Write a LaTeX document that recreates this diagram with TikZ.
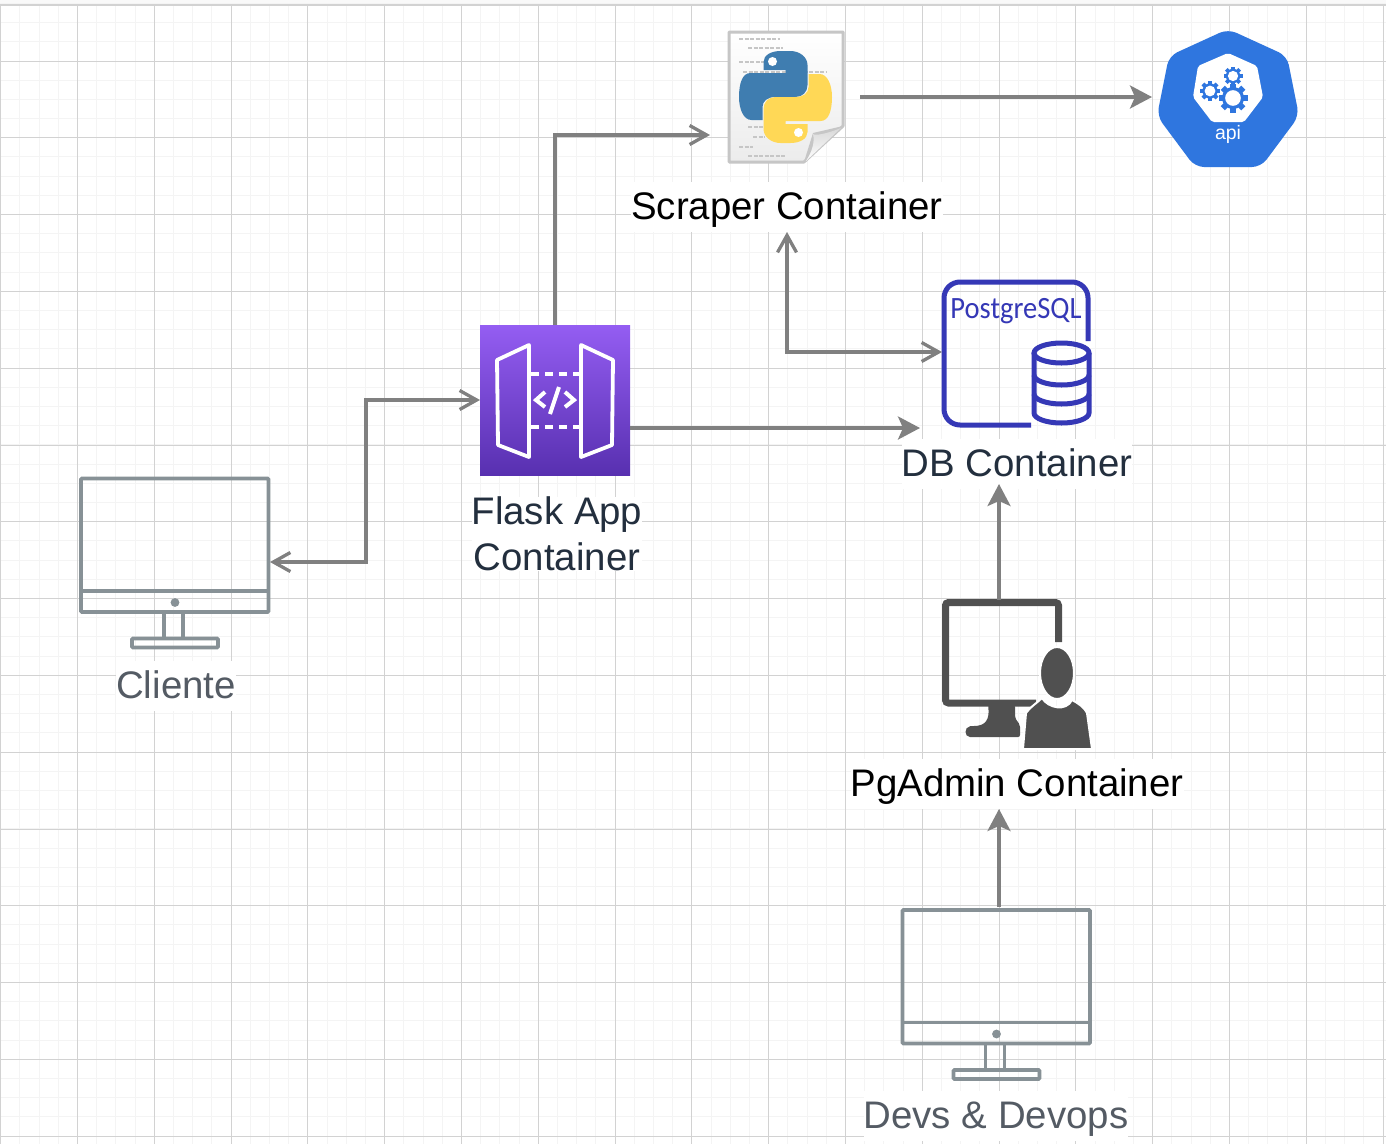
\documentclass[tikz,border=0pt]{standalone}
\usepackage{fontspec}
\setmainfont{Liberation Sans}
\newfontfamily\pgfont[FakeStretch=0.92]{Carlito}
\usetikzlibrary{arrows.meta}
\definecolor{gridmajor}{HTML}{D2D2D2}
\definecolor{gridminor}{HTML}{F4F4F4}
\definecolor{flow}{HTML}{808080}
\definecolor{monitorgrey}{HTML}{879196}
\definecolor{inkdark}{HTML}{232F3E}
\definecolor{inkgrey}{HTML}{545B64}
\definecolor{pgblue}{HTML}{3538B6}
\definecolor{apiblue}{HTML}{2F76DF}
\definecolor{adminink}{HTML}{505050}
\definecolor{flasktop}{HTML}{945DF2}
\definecolor{flaskbottom}{HTML}{5830B0}
\definecolor{snakeblue}{HTML}{3F7DB0}
\definecolor{snakeyellow}{HTML}{FFD856}
\tikzset{
	icon/.style = {inner sep=0pt, outer sep=0pt, minimum size=150pt},
	title/.style = {fill=white, inner xsep=0pt, inner ysep=0pt, outer sep=0pt, align=center, font=\fontsize{38.4}{46}\selectfont, text height=37pt, text depth=13pt},
	solidflow/.style = {draw=flow, line width=3.3pt, -{Stealth[length=22pt,width=23pt,inset=5pt]}},
	openflow/.style = {draw=flow, line width=3.3pt, -{Straight Barb[length=17pt,width=19pt]}},
	bothflow/.style = {draw=flow, line width=3.3pt, {Straight Barb[length=17pt,width=19pt]}-{Straight Barb[length=17pt,width=19pt]}},
	monitor/.pic = {
		\draw[monitorgrey, line width=3.8pt, rounded corners=1pt] (0,0) rectangle (187.5,133.5);
		\draw[monitorgrey, line width=3.8pt] (0,112.5) -- (187.5,112.5);
		\fill[monitorgrey] (94,124) circle (4.4);
		\draw[monitorgrey, line width=3.8pt] (83,133.5) -- (83,160) (102,133.5) -- (102,160);
		\draw[monitorgrey, line width=3.8pt, rounded corners=1pt] (51,160) rectangle (137,169);
	},
	snake/.pic = {
		\fill[pic actions] (0,-24) -- (0,-27) -- (-22,-27) -- (-22,-35) .. controls (-22,-42) and (-14,-46) .. (-5,-46) -- (5,-46) .. controls (14,-46) and (22,-40) .. (22,-32) -- (22,-12) .. controls (22,-5) and (17,0) .. (10,0) -- (-10,0) .. controls (-18,0) and (-23,4) .. (-23,10) -- (-23,23) -- (-34,23) .. controls (-42,23) and (-46.5,12) .. (-46.5,0) .. controls (-46.5,-14) and (-43,-24) .. (-35,-24) -- cycle;
		\fill[white] (-13,-35.5) circle (4.5);
	},
	gear/.pic = {
		\foreach \ang in {0,45,...,315} {
			\fill[apiblue, rotate=\ang] (-2,-6) rectangle (2,-10);
		}
		\fill[apiblue] (0,0) circle (7.6);
		\fill[white] (0,0) circle (5.4);
	},
}
\begin{document}
\begin{tikzpicture}[x=1pt,y=-1pt]
	\useasboundingbox (0,0) rectangle (1386,1144);
	\fill[white] (0,0) rectangle (1386,1144);
	\fill[gray!5] (0,0) rectangle (1386,4);
	\foreach \k in {0,...,72} {
		\pgfmathsetmacro\gridx{floor(.7+19.2*\k)+.5}
		\draw[gridminor, line width=1.2pt] (\gridx,5) -- (\gridx,1144);
	}
	\foreach \k in {-3,...,56} {
		\pgfmathsetmacro\gridy{floor(61+19.2*\k)+.5}
		\draw[gridminor, line width=1.2pt] (0,\gridy) -- (1386,\gridy);
	}
	\foreach \k in {0,...,18} {
		\pgfmathsetmacro\gridx{floor(.7+76.8*\k)+.5}
		\draw[gridmajor, line width=1pt] (\gridx,5) -- (\gridx,1144);
	}
	\foreach \k in {0,...,14} {
		\pgfmathsetmacro\gridy{floor(61+76.8*\k)+.5}
		\draw[gridmajor, line width=1pt] (0,\gridy) -- (1386,\gridy);
	}
	\draw[gridmajor, line width=1.6pt] (0,5) -- (1386,5);

	\node[icon] (scraper) at (785,97) {};
	\node[icon, minimum size=152pt] (api) at (1228,97) {};
	\node[icon, top color=flasktop, bottom color=flaskbottom] (flask) at (555,400) {};
	\node[icon] (postgres) at (1017,352) {};
	\node[icon] (pgadmin) at (1017,675) {};
	\node[icon, minimum width=190pt, minimum height=172pt] (cliente) at (175,562) {};
	\node[icon, minimum width=190pt, minimum height=172pt] (devs) at (996,993) {};

	\draw[gray!45, line width=3pt, top color=white, bottom color=gray!15, line join=round] (729,32) -- (843,32) -- (843,126) -- (804,162) -- (729,162) -- cycle;
	\foreach \xa/\xb/\yy in {739/780/39,748/783/48,739/770/62,743/826/72,748/763/127,753/765/137,739/753/147,748/785/156} {
		\draw[gray!45, line width=1.8pt, dash pattern=on 4pt off 1.5pt] (\xa,\yy) -- (\xb,\yy);
	}
	\fill[gray!45] (843,126) -- (813,133) -- (804,162) -- cycle;
	\shade[top color=gray!30, bottom color=white] (841,128) .. controls (826,134) and (815,136) .. (813,134) .. controls (815,142) and (812,152) .. (806,161) -- cycle;
	\pic[fill=snakeblue] at (785.5,97) {snake};
	\pic[rotate=180, fill=snakeyellow] at (785.5,97) {snake};

	\fill[apiblue, rounded corners=9pt] (1228,29) -- (1287,56) -- (1299,116) -- (1261,167) -- (1195,167) -- (1157,116) -- (1169,56) -- cycle;
	\fill[white, rounded corners=2pt] (1228,53) -- (1257,66) -- (1263,97) -- (1244,122) -- (1212,122) -- (1193,97) -- (1198,66) -- cycle;
	\pic at (1210,91) {gear};
	\pic[scale=1.45] at (1233,98) {gear};
	\pic[scale=.95] at (1233,76) {gear};
	\node[text=white, inner sep=0pt, font=\fontsize{19.5}{22}\selectfont, anchor=base] (apitext) at (1228,139) {api};

	\draw[white, line width=3.8pt, line join=round] (529,345) -- (497,360) -- (498,445) -- (529,457) -- cycle;
	\draw[white, line width=3.8pt, line join=round] (581,345) -- (613,360) -- (612,445) -- (581,457) -- cycle;
	\draw[white, line width=3.8pt, dash pattern=on 8pt off 6pt] (531,374) -- (581,374);
	\draw[white, line width=3.8pt, dash pattern=on 8pt off 6pt] (531,427) -- (581,427);
	\draw[white, line width=4pt] (545,392) -- (536,400) -- (545,407);
	\draw[white, line width=4pt] (565,392) -- (574,400) -- (565,407);
	\draw[white, line width=4pt] (559,387) -- (550,414);

	\draw[pgblue, line width=5pt, rounded corners=16pt] (1088,341) -- (1088,282) -- (944,282) -- (944,425) -- (1031,425);
	\node[text=pgblue, inner sep=0pt, font=\pgfont\fontsize{31}{36}\selectfont, anchor=base] (pgtext) at (1016,318) {PostgreSQL};
	\draw[pgblue, line width=5pt] (1061.5,353) circle [x radius=27.5, y radius=10];
	\draw[pgblue, line width=5pt] (1034,353) -- (1034,413) arc[start angle=180, end angle=0, x radius=27.5, y radius=10] -- (1089,353);
	\draw[pgblue, line width=5pt] (1034,375) arc[start angle=180, end angle=0, x radius=27.5, y radius=10];
	\draw[pgblue, line width=5pt] (1034,394) arc[start angle=180, end angle=0, x radius=27.5, y radius=10];

	\draw[adminink, line width=7pt, rounded corners=3pt] (1058.5,642) -- (1058.5,602.5) -- (945.5,602.5) -- (945.5,703) -- (1036,703);
	\fill[adminink, rounded corners=2pt] (988,705) .. controls (990,720) and (985,726) .. (972,726) .. controls (964,727) and (964,737) .. (972,737) -- (1020,737) -- (1020,725) -- (1015,718) -- (1015,705) -- cycle;
	\filldraw[adminink, draw=white, line width=2pt] (1057,673) circle [x radius=17, y radius=26];
	\filldraw[adminink, draw=white, line width=2pt] (1023,749) -- (1026,713) .. controls (1030,707) and (1037,703) .. (1042,698) .. controls (1048,708) and (1066,712) .. (1072,700) .. controls (1078,703) and (1085,708) .. (1087,713) -- (1092,749) -- cycle;

	\pic at (81,478.5) {monitor};
	\pic at (902.5,910) {monitor};

	\node[title] (scrapertitle) at (787,207) {Scraper Container};
	\node[title, text=inkdark] (dbtitle) at (1017,464) {DB Container};
	\node[fill=white, inner sep=0pt, align=center, text=inkdark, font=\fontsize{38.4}{46}\selectfont] (flasktitle) at (557,534) {Flask App\\Container};
	\node[title, text=inkgrey] (clientetitle) at (176,686) {Cliente};
	\node[title] (pgadmintitle) at (1017,784) {PgAdmin Container};
	\node[title, text=inkgrey] (devstitle) at (996,1116) {Devs \& Devops};

	\coordinate (flaskturn) at (366,562);
	\coordinate (pgturn) at (787,352);
	\coordinate (dbin) at (920,428);

	\draw[solidflow] (scraper.east) -- (api.west);
	\draw[openflow] (flask.north) |- ([yshift=-38pt]scraper.west);
	\draw[bothflow] (cliente.east) -- (flaskturn) |- (flask.west);
	\draw[solidflow] (flask.east |- dbin) -- (dbin);
	\draw[bothflow] (scrapertitle.south) -- (pgturn) -- (postgres.west);
	\draw[solidflow] ([xshift=-18pt]pgadmin.north) -- ([xshift=-18pt,yshift=5pt]dbtitle.south);
	\draw[solidflow] ([xshift=3pt]devs.north) -- ([xshift=-18pt]pgadmintitle.south);
\end{tikzpicture}
\end{document}
